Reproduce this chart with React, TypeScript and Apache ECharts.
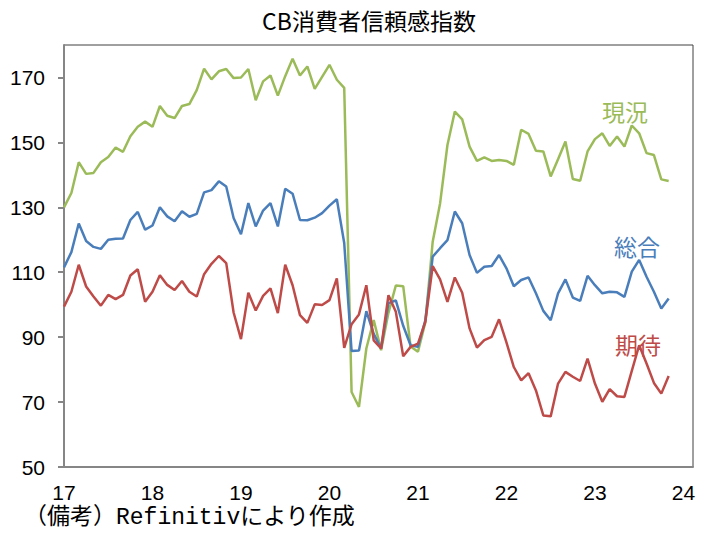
import React, { useEffect, useRef } from "react";
import * as echarts from "echarts";

// Monthly, Jan 2017 .. Nov 2023
const startYear = 2017;
const yearLabels = ["17", "18", "19", "20", "21", "22", "23", "24"];

const presentSituation = [
  130.0, 134.4, 143.9, 140.3, 140.6, 143.9, 145.5, 148.4, 147.1, 151.9, 154.8, 156.4,
  154.8, 161.2, 158.2, 157.5, 161.2, 161.8, 166.1, 172.7, 169.4, 171.9, 172.6, 169.8,
  170.0, 172.6, 163.0, 168.8, 170.6, 164.4, 170.4, 175.8, 170.6, 173.4, 166.5, 170.2,
  173.9, 169.3, 166.8, 73.1, 68.5, 86.5, 95.3, 86.0, 97.5, 105.9, 105.7, 87.1,
  85.5, 94.5, 119.4, 131.2, 149.2, 159.5, 157.1, 148.7, 144.3, 145.4, 144.3, 144.6,
  144.3, 143.1, 153.9, 152.6, 147.4, 147.2, 139.5, 144.8, 150.3, 138.7, 138.2, 147.2,
  151.0, 152.8, 148.9, 151.8, 148.7, 155.2, 152.8, 146.7, 146.1, 138.6, 138.1,
];

const composite = [
  111.5, 116.2, 125.0, 119.6, 117.8, 117.2, 120.0, 120.3, 120.4, 126.1, 128.6, 123.1,
  124.4, 130.0, 127.2, 125.7, 128.8, 127.1, 128.0, 134.6, 135.3, 138.0, 136.4, 126.7,
  121.7, 131.3, 124.1, 129.0, 131.3, 124.1, 135.7, 134.2, 126.1, 126.0, 126.8, 128.2,
  130.5, 132.5, 119.0, 85.7, 85.9, 98.0, 91.0, 86.5, 100.5, 101.3, 93.5, 87.5,
  87.0, 95.2, 114.8, 117.4, 119.9, 128.7, 125.1, 115.3, 109.8, 111.7, 111.9, 115.3,
  111.2, 105.7, 107.6, 108.4, 103.5, 98.1, 95.2, 103.5, 107.8, 102.2, 101.2, 108.9,
  106.0, 103.5, 104.0, 103.8, 102.4, 110.2, 113.8, 108.6, 104.0, 98.8, 101.9,
];

const expectations = [
  99.4, 104.0, 112.3, 105.6, 102.5, 99.7, 103.0, 101.7, 103.0, 109.0, 110.9, 100.9,
  104.0, 109.1, 106.1, 104.5, 107.3, 104.0, 102.5, 109.4, 112.6, 115.0, 112.8, 97.6,
  89.4, 103.7, 98.2, 102.7, 105.0, 97.4, 112.3, 106.0, 96.8, 94.4, 100.1, 99.9,
  101.4, 108.1, 86.7, 94.0, 97.0, 106.0, 89.0, 86.5, 102.9, 97.8, 84.1, 87.0,
  88.0, 94.7, 111.9, 107.8, 100.9, 108.4, 103.7, 92.7, 86.8, 89.1, 90.1, 95.5,
  88.4, 80.8, 76.7, 78.9, 73.6, 65.9, 65.6, 75.7, 79.3, 77.8, 76.5, 83.4,
  75.7, 70.1, 74.0, 71.8, 71.6, 79.6, 87.5, 81.9, 75.9, 72.6, 78.0,
];

const months = presentSituation.map(
  (_, i) => `${startYear + Math.floor(i / 12)}-${String((i % 12) + 1).padStart(2, "0")}`
);

const seriesDefs = [
  { name: "現況", data: presentSituation, color: "#9BBB59" },
  { name: "総合", data: composite, color: "#4A7EBB" },
  { name: "期待", data: expectations, color: "#BE4B48" },
];

const labelFont = '"Liberation Sans", Arial, sans-serif';
const cjkFont = '"Noto Sans CJK JP", sans-serif';

export default function App() {
  const ref = useRef<HTMLDivElement>(null);
  useEffect(() => {
    const chart = echarts.init(ref.current!, null, { renderer: "svg" });
    chart.setOption({
      animation: false,
      backgroundColor: "#ffffff",
      grid: {
        left: 64,
        right: 16,
        top: 45,
        bottom: 77,
        show: true,
        borderColor: "#404040",
        borderWidth: 1,
      },
      xAxis: {
        type: "value",
        min: 0,
        max: 85.3,
        interval: 12,
        axisLine: { show: true, lineStyle: { color: "#868686", width: 2 } },
        axisTick: { show: false },
        splitLine: { show: false },
        axisLabel: {
          showMaxLabel: false,
          margin: 15,
          fontSize: 21,
          color: "#000",
          fontFamily: labelFont,
          formatter: (v: number) => yearLabels[Math.round(v / 12)] ?? "",
        },
      },
      yAxis: {
        type: "value",
        min: 50,
        max: 180,
        interval: 20,
        axisLine: { show: true, lineStyle: { color: "#868686", width: 2 } },
        axisTick: { show: true, inside: false, length: 6, lineStyle: { color: "#868686", width: 2 } },
        splitLine: { show: false },
        axisLabel: {
          showMaxLabel: false,
          margin: 19,
          fontSize: 21,
          color: "#000",
          fontFamily: labelFont,
        },
      },
      series: seriesDefs.map((s) => ({
        name: s.name,
        type: "line",
        data: s.data.map((v, i) => [i, v]),
        showSymbol: false,
        symbol: "none",
        lineStyle: { color: s.color, width: 2.5 },
        itemStyle: { color: s.color },
      })),
      graphic: [
        {
          type: "text",
          x: 369,
          y: 20,
          style: {
            text: "CB消費者信頼感指数",
            align: "center",
            verticalAlign: "middle",
            fontSize: 23,
            fontFamily: cjkFont,
            fill: "#000",
          },
        },
        {
          type: "text",
          x: 625,
          y: 111,
          style: { text: "現況", align: "center", verticalAlign: "middle", fontSize: 23, fontFamily: cjkFont, fill: "#9BBB59" },
        },
        {
          type: "text",
          x: 637,
          y: 246,
          style: { text: "総合", align: "center", verticalAlign: "middle", fontSize: 23, fontFamily: cjkFont, fill: "#4A7EBB" },
        },
        {
          type: "text",
          x: 638,
          y: 344,
          style: { text: "期待", align: "center", verticalAlign: "middle", fontSize: 23, fontFamily: cjkFont, fill: "#BE4B48" },
        },
        {
          type: "text",
          x: 24,
          y: 518,
          style: {
            text: "（備考）Refinitivにより作成",
            align: "left",
            verticalAlign: "middle",
            fontSize: 23,
            fontFamily: '"Liberation Mono", "Noto Sans CJK JP", monospace',
            fill: "#000",
          },
        },
      ],
    });
    return () => chart.dispose();
  }, []);
  return (
    <div
      ref={ref}
      data-months={months.length}
      style={{ position: "absolute", left: 0, top: 0, width: 709, height: 544 }}
    />
  );
}
